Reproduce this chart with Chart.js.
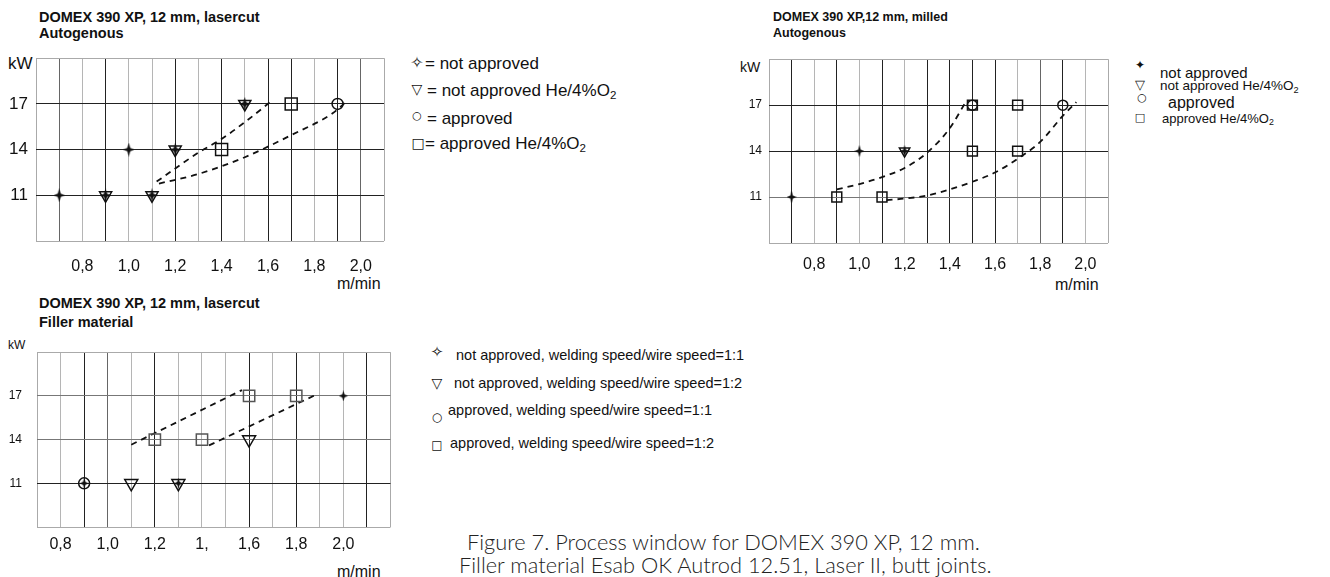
<!DOCTYPE html>
<html>
<head>
<meta charset="utf-8">
<script src="https://cdn.jsdelivr.net/npm/chart.js@4.4.0/dist/chart.umd.min.js"></script>
<style>
  body { margin: 0; background: #fff; width: 1330px; height: 577px; position: relative; overflow: hidden;
         font-family: "Liberation Sans", Arial, sans-serif; color: #111; }
  .box { position: absolute; }
  .t { position: absolute; white-space: nowrap; line-height: 1; transform: translateY(-50%); }
  .s { position: absolute; white-space: nowrap; line-height: 1; transform: translate(-50%, -50%);
       font-family: "DejaVu Sans", sans-serif; }
  .b { font-weight: bold; }
  sub { font-size: 0.68em; vertical-align: -0.28em; line-height: 0; }
  .cap { position: absolute; white-space: nowrap; font-family: Lato, "Open Sans", sans-serif; font-weight: 300;
         font-size: 21.8px; color: #222; line-height: 1; transform: translateY(-50%); }
</style>
</head>
<body>

<!-- Biểu đồ 1: lasercut, autogenous -->
<div class="t b" style="left:39px;top:17px;font-size:14.5px">DOMEX 390 XP, 12 mm, lasercut</div>
<div class="t b" style="left:39px;top:33px;font-size:14.5px">Autogenous</div>
<div class="t" style="left:8px;top:63px;font-size:17px">kW</div>
<div class="t" style="left:337px;top:284px;font-size:16px">m/min</div>
<div class="box" style="left:0;top:40px;width:400px;height:250px"><canvas id="chart1" width="400" height="250"></canvas></div>

<span class="s" style="left:417px;top:63px;font-size:16px">✧</span>
<div class="t" style="left:425px;top:63px;font-size:17px">= not approved</div>
<span class="s" style="left:417px;top:89px;font-size:14px">▽</span>
<div class="t" style="left:427px;top:90px;font-size:17px">= not approved He/4%O<sub>2</sub></div>
<span class="s" style="left:417px;top:115px;font-size:11px">○</span>
<div class="t" style="left:427px;top:118px;font-size:17px">= approved</div>
<span class="s" style="left:418px;top:143px;font-size:14px">□</span>
<div class="t" style="left:425px;top:143px;font-size:17px">= approved He/4%O<sub>2</sub></div>

<!-- Biểu đồ 2: milled, autogenous -->
<div class="t b" style="left:773px;top:17px;font-size:12.5px">DOMEX 390 XP,12 mm, milled</div>
<div class="t b" style="left:773px;top:33px;font-size:12.5px">Autogenous</div>
<div class="t" style="left:740px;top:67px;font-size:14px">kW</div>
<div class="t" style="left:1055px;top:285px;font-size:16px">m/min</div>
<div class="box" style="left:735px;top:45px;width:385px;height:245px"><canvas id="chart2" width="385" height="245"></canvas></div>

<span class="s" style="left:1140px;top:65px;font-size:12px">✦</span>
<div class="t" style="left:1160px;top:72px;font-size:15px">not approved</div>
<span class="s" style="left:1140px;top:84px;font-size:13px">▽</span>
<div class="t" style="left:1160px;top:86px;font-size:13.5px">not approved He/4%O<sub>2</sub></div>
<span class="s" style="left:1142px;top:97px;font-size:11px">○</span>
<div class="t" style="left:1168px;top:103px;font-size:16px">approved</div>
<span class="s" style="left:1140px;top:117px;font-size:11px">□</span>
<div class="t" style="left:1162px;top:118px;font-size:13px">approved He/4%O<sub>2</sub></div>

<!-- Biểu đồ 3: lasercut, filler material -->
<div class="t b" style="left:39px;top:303px;font-size:14.5px">DOMEX 390 XP, 12 mm, lasercut</div>
<div class="t b" style="left:39px;top:322px;font-size:14.5px">Filler material</div>
<div class="t" style="left:8px;top:345px;font-size:12px">kW</div>
<div class="t" style="left:337px;top:572px;font-size:16px">m/min</div>
<div class="box" style="left:0;top:330px;width:400px;height:240px"><canvas id="chart3" width="400" height="240"></canvas></div>

<span class="s" style="left:437px;top:352px;font-size:15px">✧</span>
<div class="t" style="left:456px;top:355px;font-size:14.5px">not approved, welding speed/wire speed=1:1</div>
<span class="s" style="left:437px;top:383px;font-size:14px">▽</span>
<div class="t" style="left:454px;top:383px;font-size:14.5px">not approved, welding speed/wire speed=1:2</div>
<span class="s" style="left:437px;top:417px;font-size:12px">○</span>
<div class="t" style="left:448px;top:410px;font-size:14.5px">approved, welding speed/wire speed=1:1</div>
<span class="s" style="left:437px;top:445px;font-size:12px">□</span>
<div class="t" style="left:450px;top:443px;font-size:14.5px">approved, welding speed/wire speed=1:2</div>

<div class="cap" style="left:467px;top:542px">Figure 7. Process window for DOMEX 390 XP, 12 mm.</div>
<div class="cap" style="left:459px;top:565px">Filler material Esab OK Autrod 12.51, Laser II, butt joints.</div>

<script>
// Dữ liệu chung cho trục
var yTicks = [11, 14, 17];
var yLabels = ['11', '14', '17'];
var xTicksA = [0.8, 1.0, 1.2, 1.4, 1.6, 1.8, 2.0];
var xLabelsA = ['0,8', '1,0', '1,2', '1,4', '1,6', '1,8', '2,0'];
var xLabelsC = ['0,8', '1,0', '1,2', '1,', '1,6', '1,8', '2,0'];

// Biểu đồ 1: lasercut, autogenous
var a_notApprovedX = [0.7, 0.9, 1.0, 1.1, 1.2, 1.5];
var a_notApprovedY = [11, 11, 14, 11, 14, 17];
var a_notApprovedHeX = [0.9, 1.1, 1.2, 1.5];
var a_notApprovedHeY = [11, 11, 14, 17];
var a_approvedX = [1.9];
var a_approvedY = [17];
var a_approvedHeX = [1.4, 1.7];
var a_approvedHeY = [14, 17];
var a_upperX = [1.12, 1.3, 1.4, 1.5, 1.62];
var a_upperY = [11.9, 13.8, 14.7, 15.8, 17.25];
var a_lowerX = [1.13, 1.3, 1.5, 1.7, 1.88, 1.93];
var a_lowerY = [11.77, 12.4, 13.5, 14.95, 16.4, 17.05];

// Biểu đồ 2: milled, autogenous
var b_notApprovedX = [0.7, 1.0, 1.2];
var b_notApprovedY = [11, 14, 14];
var b_notApprovedHeX = [1.2];
var b_notApprovedHeY = [14];
var b_approvedX = [1.5, 1.9];
var b_approvedY = [17, 17];
var b_approvedHeX = [0.9, 1.1, 1.5, 1.5, 1.7, 1.7];
var b_approvedHeY = [11, 11, 14, 17, 14, 17];
var b_upperX = [0.9, 1.0, 1.1, 1.2, 1.3, 1.4, 1.47];
var b_upperY = [11.5, 11.85, 12.3, 12.9, 13.9, 15.5, 17.2];
var b_lowerX = [1.12, 1.2, 1.3, 1.4, 1.5, 1.6, 1.7, 1.8, 1.9, 1.96];
var b_lowerY = [10.8, 10.9, 11.1, 11.5, 12.0, 12.6, 13.5, 14.6, 16.3, 17.2];

// Biểu đồ 3: lasercut, filler material
var c_na11X = [0.9, 1.3, 2.0];
var c_na11Y = [11, 11, 17];
var c_na12X = [1.1, 1.3, 1.6];
var c_na12Y = [11, 11, 14];
var c_ap11X = [0.9];
var c_ap11Y = [11];
var c_ap12X = [1.2, 1.4, 1.6, 1.8];
var c_ap12Y = [14, 14, 17, 17];
var c_upperX = [1.1, 1.57];
var c_upperY = [13.65, 17.4];
var c_lowerX = [1.43, 1.88];
var c_lowerY = [13.6, 17.05];

Chart.defaults.font.family = '"Liberation Sans", Arial, sans-serif';
Chart.defaults.color = '#111';

function pts(xs, ys) {
    var out = [];
    for (var i = 0; i < xs.length; i++) out.push({ x: xs[i], y: ys[i] });
    return out;
}

// ngôi sao 4 cánh làm pointStyle
function makeStar(w, h) {
    var c = document.createElement('canvas');
    c.width = w; c.height = h;
    var g = c.getContext('2d');
    var cx = w / 2, cy = h / 2, a = w * 0.13, b = h * 0.13;
    g.fillStyle = '#111';
    g.beginPath();
    g.moveTo(cx, 0);
    g.lineTo(cx + a, cy - b);
    g.lineTo(w, cy);
    g.lineTo(cx + a, cy + b);
    g.lineTo(cx, h);
    g.lineTo(cx - a, cy + b);
    g.lineTo(0, cy);
    g.lineTo(cx - a, cy - b);
    g.closePath();
    g.fill();
    return c;
}

function markers(data, style, r, color) {
    return {
        data: data, pointStyle: style, pointRadius: r, pointRotation: style === 'triangle' ? 180 : 0,
        borderColor: color || '#111', backgroundColor: 'rgba(0,0,0,0)', pointBorderWidth: 1.5, showLine: false
    };
}

function dashed(data, mode) {
    return {
        data: data, showLine: true, pointRadius: 0, borderColor: '#111', borderWidth: 1.8,
        borderDash: [6, 5], fill: false, cubicInterpolationMode: mode || 'default', tension: 0
    };
}

function findIdx(arr, v) {
    for (var i = 0; i < arr.length; i++) if (Math.round(arr[i] * 10) === Math.round(v * 10)) return i;
    return -1;
}

function gridColor(dark, mid, lo, hi) {
    return function (c) {
        var k = Math.round(c.tick.value * 10);
        if (k === Math.round(lo * 10) || k === Math.round(hi * 10)) return '#aaa';
        if (dark.indexOf(k) >= 0) return '#222';
        if (mid.indexOf(k) >= 0) return '#666';
        return '#b5b5b5';
    };
}

function makeChart(id, o) {
    var ctx = document.getElementById(id).getContext('2d');
    return new Chart(ctx, {
        type: 'scatter',
        data: { datasets: o.datasets },
        options: {
            responsive: false,
            animation: false,
            layout: { padding: o.pad },
            plugins: { legend: { display: false }, tooltip: { enabled: false } },
            scales: {
                x: {
                    type: 'linear', min: o.xMin, max: o.xMax,
                    afterFit: function (s) { s.height = o.xH; },
                    afterBuildTicks: function (s) {
                        var t = [];
                        for (var k = Math.round(o.xMin * 10); k <= Math.round(o.xMax * 10); k++) t.push({ value: k / 10 });
                        s.ticks = t;
                    },
                    ticks: {
                        autoSkip: false, maxRotation: 0, padding: o.xPad, font: { size: o.xFont },
                        callback: function (v) { var i = findIdx(xTicksA, v); return i < 0 ? '' : o.xLabels[i]; }
                    },
                    grid: { drawTicks: false, lineWidth: 1, color: gridColor(o.xDark, o.xMid, o.xMin, o.xMax) },
                    border: { display: false }
                },
                y: {
                    type: 'linear', min: 8, max: 20,
                    afterFit: function (s) { s.width = o.yW; },
                    afterBuildTicks: function (s) {
                        s.ticks = [8, 11, 14, 17, 20].map(function (v) { return { value: v }; });
                    },
                    ticks: {
                        padding: o.yPad, font: { size: o.yFont },
                        callback: function (v) { var i = yTicks.indexOf(v); return i < 0 ? '' : yLabels[i]; }
                    },
                    grid: {
                        drawTicks: false, lineWidth: 1,
                        color: function (c) {
                            var v = c.tick.value;
                            if (v === 8 || v === 20) return '#aaa';
                            return o.yDark.indexOf(v) >= 0 ? '#222' : '#777';
                        }
                    },
                    border: { display: false }
                }
            }
        }
    });
}

var star1 = makeStar(11, 14);
var star2 = makeStar(10, 12);
var star3 = makeStar(9, 11);

makeChart('chart1', {
    pad: { left: 0, top: 10, right: 8, bottom: 0 }, yW: 36, xH: 49,
    xMin: 0.6, xMax: 2.1, xLabels: xLabelsA, xFont: 16, xPad: 16, yFont: 17, yPad: 8,
    xDark: [9, 12, 14, 16, 17, 19], xMid: [7, 20], yDark: [11, 14, 17],
    datasets: [
        markers(pts(a_notApprovedX, a_notApprovedY), star1, 7),
        markers(pts(a_notApprovedHeX, a_notApprovedHeY), 'triangle', 7),
        markers(pts(a_approvedX, a_approvedY), 'circle', 5.5),
        markers(pts(a_approvedHeX, a_approvedHeY), 'rect', 8.5),
        dashed(pts(a_upperX, a_upperY), 'monotone'),
        dashed(pts(a_lowerX, a_lowerY), 'monotone')
    ]
});

makeChart('chart2', {
    pad: { left: 0, top: 14, right: 6, bottom: 0 }, yW: 34, xH: 47,
    xMin: 0.6, xMax: 2.1, xLabels: xLabelsA, xFont: 16, xPad: 12, yFont: 12, yPad: 7,
    xDark: [7, 9, 11, 13, 14, 15, 16, 19], xMid: [18], yDark: [14, 17],
    datasets: [
        markers(pts(b_notApprovedX, b_notApprovedY), star2, 6),
        markers(pts(b_notApprovedHeX, b_notApprovedHeY), 'triangle', 6),
        markers(pts(b_approvedX, b_approvedY), 'circle', 5),
        markers(pts(b_approvedHeX, b_approvedHeY), 'rect', 7),
        dashed(pts(b_upperX, b_upperY), 'monotone'),
        dashed(pts(b_lowerX, b_lowerY), 'monotone')
    ]
});

makeChart('chart3', {
    pad: { left: 0, top: 10, right: 9, bottom: 0 }, yW: 37, xH: 43,
    xMin: 0.7, xMax: 2.2, xLabels: xLabelsC, xFont: 16, xPad: 8, yFont: 12, yPad: 15,
    xDark: [9, 12, 16, 18, 21], xMid: [10], yDark: [11],
    datasets: [
        markers(pts(c_na11X, c_na11Y), star3, 6),
        markers(pts(c_na12X, c_na12Y), 'triangle', 7.5),
        markers(pts(c_ap11X, c_ap11Y), 'circle', 5.5),
        markers(pts(c_ap12X, c_ap12Y), 'rect', 8, '#555'),
        dashed(pts(c_upperX, c_upperY)),
        dashed(pts(c_lowerX, c_lowerY))
    ]
});
</script>
</body>
</html>
